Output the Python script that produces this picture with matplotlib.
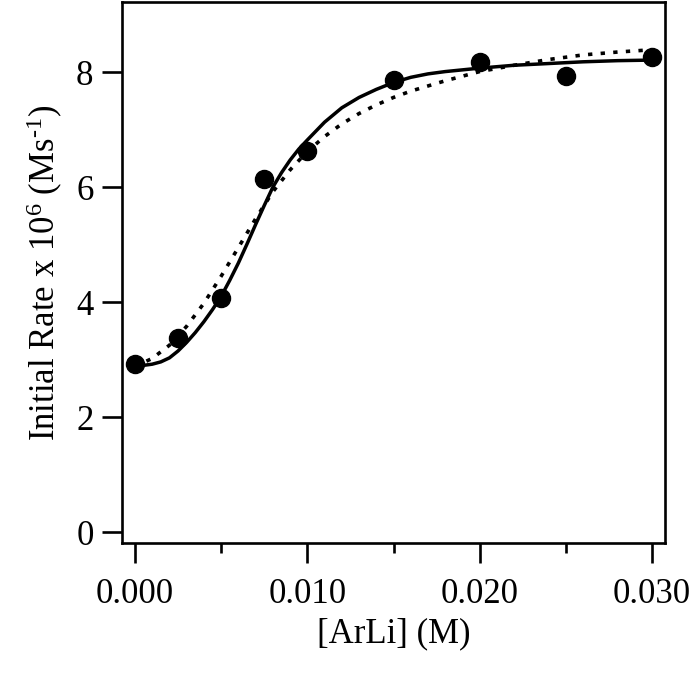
import matplotlib
matplotlib.use('Agg')
import matplotlib.pyplot as plt
import numpy as np

plt.rcParams['font.family'] = ['Liberation Serif', 'DejaVu Serif']
plt.rcParams['mathtext.default'] = 'regular'

# measured initial rates
conc = [0.0, 0.0025, 0.005, 0.0075, 0.010, 0.015, 0.020, 0.025, 0.030]
rate = [2.93, 3.37, 4.08, 6.15, 6.62, 7.87, 8.17, 7.93, 8.27]

# solid fit
fit1_x = [0.0, 0.0005, 0.001, 0.0015, 0.002, 0.0025, 0.003, 0.0035, 0.004,
          0.0045, 0.005, 0.0055, 0.006, 0.0065, 0.007, 0.0075, 0.008, 0.0085,
          0.009, 0.0095, 0.010, 0.011, 0.012, 0.013, 0.014, 0.015, 0.016,
          0.017, 0.018, 0.020, 0.022, 0.024, 0.026, 0.028, 0.030]
fit1_y = [2.90, 2.90, 2.92, 2.96, 3.03, 3.15, 3.30, 3.47, 3.66,
          3.87, 4.10, 4.38, 4.68, 5.01, 5.35, 5.68, 6.00, 6.25,
          6.47, 6.66, 6.82, 7.13, 7.38, 7.56, 7.70, 7.82, 7.91,
          7.97, 8.01, 8.07, 8.12, 8.15, 8.18, 8.20, 8.21]

# dotted fit
fit2_x = [0.0, 0.001, 0.002, 0.003, 0.004, 0.005, 0.006, 0.007, 0.008, 0.009,
          0.010, 0.011, 0.012, 0.013, 0.014, 0.015, 0.016, 0.017, 0.018,
          0.020, 0.022, 0.024, 0.026, 0.028, 0.030]
fit2_y = [2.88, 3.02, 3.25, 3.58, 3.98, 4.45, 4.95, 5.45, 5.92, 6.30,
          6.62, 6.88, 7.10, 7.28, 7.43, 7.56, 7.67, 7.76, 7.85,
          8.01, 8.12, 8.22, 8.30, 8.35, 8.39]

fig = plt.figure(figsize=(6.91, 6.73), dpi=100)
ax = fig.add_axes([0.1766, 0.1932, 0.7858, 0.8038])

ax.plot(fit1_x, fit1_y, color='black', lw=2.5, solid_joinstyle='round')
ax.plot(fit2_x, fit2_y, color='black', lw=2.6, linestyle=(0, (1.2, 2.3)))
ax.plot(conc, rate, 'o', color='black', ms=13)

ax.set_xlim(-0.00075, 0.03075)
ax.set_ylim(-0.19, 9.22)

ax.set_xticks([0.0, 0.010, 0.020, 0.030])
ax.set_xticklabels(['0.000', '0.010', '0.020', '0.030'])
ax.set_xticks([0.005, 0.015, 0.025], minor=True)
ax.set_yticks([0, 2, 4, 6, 8])

for s in ax.spines.values():
    s.set_linewidth(1.9)
ax.tick_params(which='major', length=14.5, width=1.9, labelsize=25, pad=6)
ax.tick_params(axis='x', which='major', pad=11)
ax.tick_params(which='minor', length=7.5, width=1.9)

ax.set_xlabel('[ArLi] (M)', fontsize=25, labelpad=4)
ax.set_ylabel('Initial Rate x 10$^{6}$ (Ms$^{\u2010 1}$)', fontsize=25, labelpad=8)

fig.savefig('out.png', dpi=100)
